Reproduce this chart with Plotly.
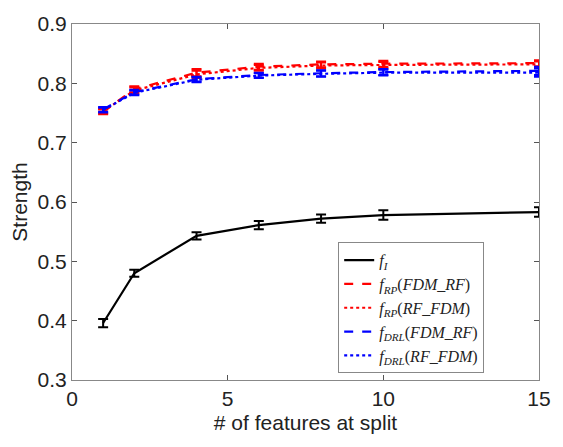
import plotly.graph_objects as go

x_vals = [1, 2, 4, 6, 8, 10, 15]

f_I = [0.396, 0.480, 0.543, 0.561, 0.572, 0.578, 0.583]
f_I_err = [0.007, 0.006, 0.006, 0.007, 0.007, 0.008, 0.008]

f_RP_FDM_RF = [0.752, 0.790, 0.818, 0.828, 0.832, 0.833, 0.834]
f_RP_FDM_RF_err = [0.004, 0.005, 0.006, 0.005, 0.005, 0.005, 0.005]
f_RP_RF_FDM = [0.753, 0.788, 0.815, 0.826, 0.830, 0.831, 0.832]
f_RP_RF_FDM_err = [0.004, 0.005, 0.006, 0.005, 0.005, 0.005, 0.005]

f_DRL_FDM_RF = [0.756, 0.785, 0.807, 0.814, 0.817, 0.819, 0.821]
f_DRL_FDM_RF_err = [0.004, 0.004, 0.004, 0.004, 0.005, 0.005, 0.007]
f_DRL_RF_FDM = [0.755, 0.784, 0.806, 0.813, 0.816, 0.818, 0.818]
f_DRL_RF_FDM_err = [0.004, 0.004, 0.004, 0.004, 0.005, 0.005, 0.007]

names = [
    "<i>f</i><sub><i>I</i></sub>",
    "<i>f</i><sub><i>RP</i></sub>(<i>FDM_RF</i>)",
    "<i>f</i><sub><i>RP</i></sub>(<i>RF_FDM</i>)",
    "<i>f</i><sub><i>DRL</i></sub>(<i>FDM_RF</i>)",
    "<i>f</i><sub><i>DRL</i></sub>(<i>RF_FDM</i>)",
]
series = [
    (f_I, f_I_err, "black", "solid"),
    (f_RP_FDM_RF, f_RP_FDM_RF_err, "#ff0000", "dash"),
    (f_RP_RF_FDM, f_RP_RF_FDM_err, "#ff0000", "dot"),
    (f_DRL_FDM_RF, f_DRL_FDM_RF_err, "#0000ff", "dash"),
    (f_DRL_RF_FDM, f_DRL_RF_FDM_err, "#0000ff", "dot"),
]

fig = go.Figure()
for name, (y, e, c, d) in zip(names, series):
    fig.add_trace(go.Scatter(
        x=x_vals, y=y, name=name, mode="lines",
        line=dict(color=c, width=2.2, dash=d),
        error_y=dict(type="data", array=e, color=c, thickness=2, width=5, visible=True),
    ))

axis_common = dict(
    showgrid=False, zeroline=False, showline=True, linecolor="#888888", linewidth=1,
    mirror="ticks", ticks="inside", ticklen=5, tickcolor="#555555",
    tickfont=dict(family="Liberation Sans, Arial, sans-serif", size=21, color="#222222"),
)

fig.update_layout(
    width=563, height=447,
    margin=dict(l=72, r=12, t=16, b=67),
    paper_bgcolor="white", plot_bgcolor="white",
    xaxis=dict(range=[0, 15], tickvals=[0, 5, 10, 15],
               title=dict(text="# of features at split", standoff=6,
                          font=dict(family="Liberation Sans, Arial, sans-serif", size=21, color="#222222")),
               **axis_common),
    yaxis=dict(range=[0.3, 0.9], tickvals=[0.3, 0.4, 0.5, 0.6, 0.7, 0.8, 0.9], tickformat=".1f",
               title=dict(text="Strength", standoff=4,
                          font=dict(family="Liberation Sans, Arial, sans-serif", size=21, color="#222222")),
               **axis_common),
    legend=dict(x=0.57, y=0.019, xanchor="left", yanchor="bottom",
                bgcolor="white", bordercolor="#888888", borderwidth=1,
                font=dict(family="Liberation Serif, Times New Roman, serif", size=16, color="#222222"),
                tracegroupgap=0, itemwidth=30),
    showlegend=True,
)

fig.write_html("out.html")
